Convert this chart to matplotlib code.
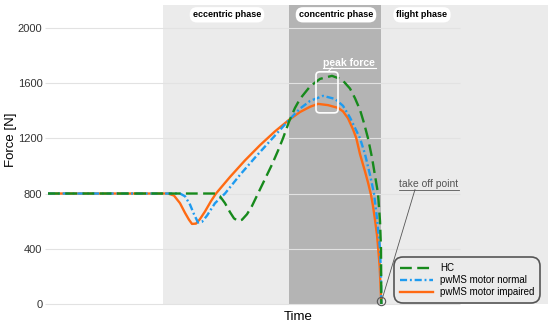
import matplotlib.pyplot as plt
from matplotlib.patches import FancyBboxPatch

plt.rcParams['font.family'] = ['Liberation Sans', 'DejaVu Sans']

# time in ms, force in N
t_hc = [0, 501, 516, 531, 546, 558, 570, 582, 597, 612, 630, 651, 672, 690, 705,
        723, 741, 756, 786, 816, 852, 882, 906, 921, 936, 948, 960, 972, 981, 990,
        996, 999, 1000]
f_hc = [800, 800, 780, 730, 665, 620, 601, 610, 650, 710, 800, 905, 1010, 1110, 1200,
        1320, 1420, 1485, 1575, 1630, 1652, 1625, 1560, 1490, 1406, 1310, 1200, 1060, 930, 800,
        600, 400, 0]

t_normal = [0, 396, 411, 426, 438, 450, 462, 477, 501, 531, 576, 621, 666, 696, 723,
            756, 786, 825, 861, 885, 906, 921, 936, 951, 966, 978, 987, 996, 999, 1000]
f_normal = [800, 800, 780, 720, 650, 590, 595, 640, 730, 800, 935, 1060, 1180, 1260, 1333,
            1415, 1470, 1507, 1485, 1435, 1350, 1275, 1200, 1085, 935, 800, 620, 400, 200, 0]

t_impaired = [0, 360, 378, 396, 411, 423, 432, 444, 456, 471, 489, 504, 546, 591, 636,
              681, 723, 756, 786, 810, 840, 870, 885, 900, 915, 925, 936, 951, 960, 969,
              975, 981, 987, 990, 995, 1000]
f_impaired = [800, 800, 785, 730, 660, 610, 580, 582, 615, 670, 745, 800, 920, 1040, 1150,
              1250, 1333, 1390, 1428, 1449, 1440, 1420, 1395, 1345, 1265, 1200, 1085, 960, 880, 790,
              710, 610, 500, 420, 270, 0]

phase_edges = [345, 723, 1000, 1500]
phase_names = ['eccentric phase', 'concentric phase', 'flight phase']
phase_label_x = [537, 864, 1122]
yticks = [0, 400, 800, 1200, 1600, 2000]

fig = plt.figure(figsize=(5.5, 3.26), dpi=100)
ax = fig.add_axes([48 / 550, 22 / 326, 500 / 550, 299 / 326])
ax.set_xlim(0, 1500)
ax.set_ylim(0, 2165)

# phase shading
ax.axvspan(phase_edges[0], phase_edges[3], color='#ebebeb', lw=0, zorder=0)
ax.axvspan(phase_edges[1], phase_edges[2], color='#b4b4b4', lw=0, zorder=0)

# horizontal grid
ax.hlines(yticks, -10, 1236, colors='#e2e2e2', lw=0.8, zorder=1, clip_on=False)

ax.plot(t_hc, f_hc, color='#178a1c', lw=1.7, ls=(0, (5, 2.3)), label='HC', zorder=4)
ax.plot(t_normal, f_normal, color='#1e9bf0', lw=1.7, ls=(0, (3, 1.2, 0.8, 1.2)),
        label='pwMS motor normal', zorder=3)
ax.plot(t_impaired, f_impaired, color='#ff6a13', lw=1.7, label='pwMS motor impaired', zorder=2)

for name, x in zip(phase_names, phase_label_x):
    ax.text(x, 2094, name, ha='center', va='center', fontsize=6.5, fontweight='bold',
            bbox=dict(boxstyle='round,pad=0.35,rounding_size=0.8', fc='white', ec='none'))

# peak force box
ax.add_patch(FancyBboxPatch((804, 1384), 66, 297, boxstyle='round,pad=0,rounding_size=12',
                            fc='none', ec='white', lw=1.2, zorder=5,
                            mutation_aspect=297 / 66 * 0.45))
ax.plot([840, 852], [1681, 1712], color='white', lw=0.8, zorder=5)
ax.text(904, 1725, 'peak force', ha='center', va='baseline', color='white',
        fontsize=7.5, fontweight='bold', zorder=5)
ax.plot([825, 984], [1712, 1712], color='white', lw=0.8, zorder=5)

# take off point
ax.plot([1000], [20], marker='o', ms=6, mfc='none', mec='#555555', mew=0.8, zorder=6,
        clip_on=False)
ax.text(1143, 848, 'take off point', ha='center', va='baseline', color='#555555', fontsize=7.5)
ax.plot([1053, 1233], [829, 829], color='#555555', lw=0.6)
ax.plot([1101, 1003], [829, 40], color='#555555', lw=0.6, zorder=6)

leg = ax.legend(loc='lower right', bbox_to_anchor=(0.984, 0.004), fontsize=7,
                frameon=True, handlelength=3.4, borderpad=0.6, borderaxespad=0,
                labelspacing=0.2, handletextpad=0.7)
frame = leg.get_frame()
frame.set_boxstyle('round', pad=0, rounding_size=0.9)
frame.set_edgecolor('#555555')
frame.set_facecolor('#ebebeb')
frame.set_linewidth(1.2)
frame.set_alpha(1)

ax.set_yticks(yticks)
ax.set_yticklabels([str(v) for v in yticks], fontsize=8, color='#333333')
ax.set_xticks([])
ax.tick_params(axis='y', length=0, pad=4)
for s in ax.spines.values():
    s.set_visible(False)
ax.set_ylabel('Force [N]', fontsize=9.5)
ax.yaxis.set_label_coords(-0.062, 0.548)
ax.set_xlabel('Time', fontsize=9.5, labelpad=5)

fig.savefig('out.png', dpi=100)
